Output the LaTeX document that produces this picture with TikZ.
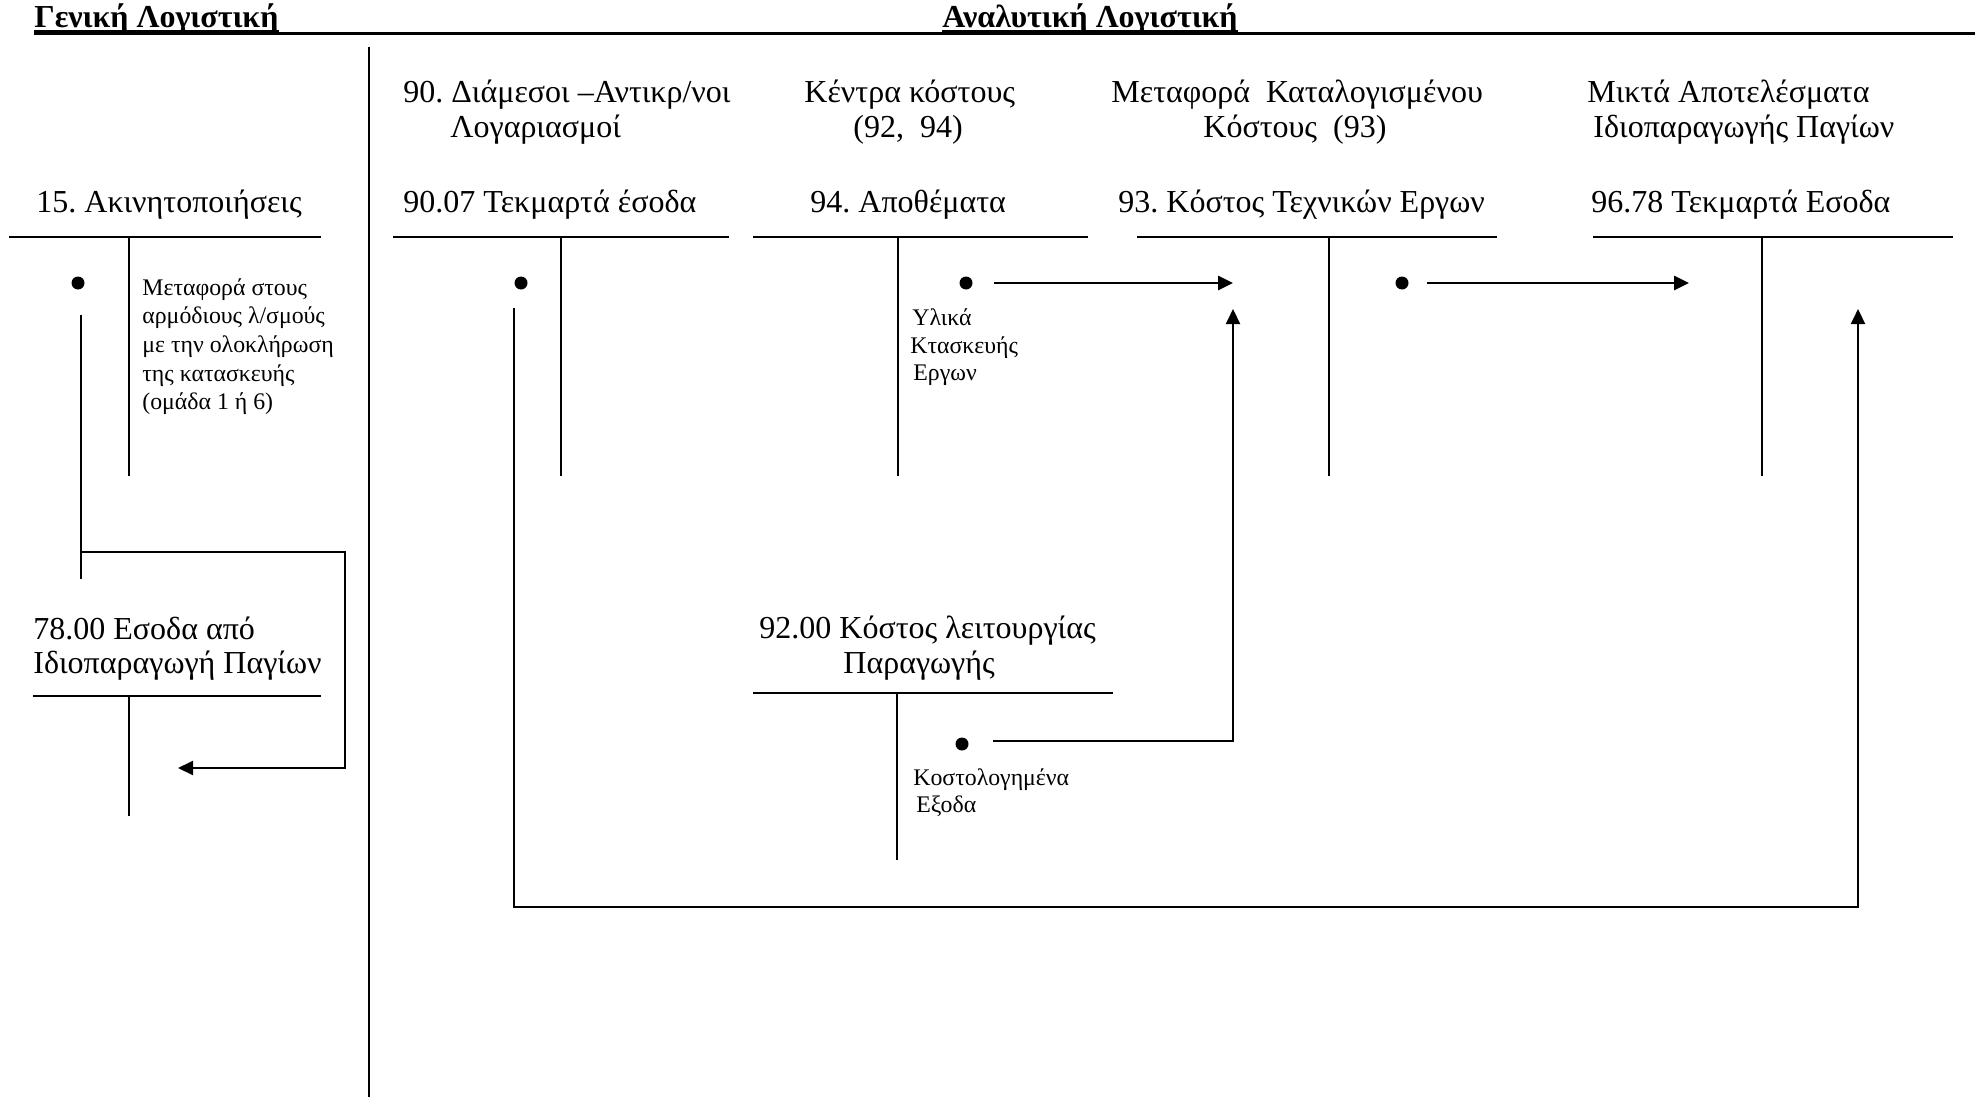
\documentclass[tikz,border=0pt]{standalone}
\usepackage{fontspec}
\setmainfont{Liberation Serif}
\usetikzlibrary{arrows.meta}
\frenchspacing
\begin{document}
\begin{tikzpicture}[x=0.5pt,y=-0.5pt,
  acct/.style={line width=1pt},
  conn/.style={line width=1pt},
  thick conn/.style={line width=1.3pt},
  arr/.style={-{Triangle[length=7.5pt,width=7pt]}},
  dotn/.style={circle,fill=black,inner sep=0pt,minimum size=6.5pt},
  lbl/.style={font=\fontsize{16}{19}\selectfont,inner sep=0pt,anchor=base west},
  note/.style={font=\fontsize{11.9}{14}\selectfont,inner sep=0pt,anchor=base west},
  head/.style={font=\bfseries\fontsize{16}{19}\selectfont,inner sep=0pt,anchor=base west}]
\useasboundingbox (0,0) rectangle (1975,1097);

% header
\node[head] (h1) at (34,28) {Γενική Λογιστική};
\node[head] (h2) at (942,28) {Αναλυτική Λογιστική};
\draw[line width=1pt] ([yshift=-1.5pt]h1.base west) -- ([yshift=-1.5pt]h1.base east);
\draw[line width=1pt] ([yshift=-1.5pt]h2.base west) -- ([yshift=-1.5pt]h2.base east);
\draw[line width=1.1pt] (34,33.5) -- (1975,33.5);
% divider
\draw[line width=1pt] (369,47) -- (369,1097);

% titles
\node[lbl] (t2a) at (403,103) {90. Διάμεσοι –Αντικρ/νοι};
\node[lbl] (t2b) at (450,138) {Λογαριασμοί};
\node[lbl] (t3a) at (804,103) {Κέντρα κόστους};
\node[lbl] (t3b) at (853,138) {(92,\ \ 94)};
\node[lbl] (t4a) at (1111,103) {Μεταφορά\ \ Καταλογισμένου};
\node[lbl] (t4b) at (1203,138) {Κόστους\ \ (93)};
\node[lbl] (t5a) at (1587,103) {Μικτά Αποτελέσματα};
\node[lbl] (t5b) at (1593,138) {Ιδιοπαραγωγής Παγίων};

% account names
\node[lbl] (a1) at (36,212) {15. Ακινητοποιήσεις};
\node[lbl] (a2) at (403,213) {90.07 Τεκμαρτά έσοδα};
\node[lbl] (a3) at (810,213) {94. Αποθέματα};
\node[lbl] (a4) at (1118,213) {93. Κόστος Τεχνικών Εργων};
\node[lbl] (a5) at (1591,213) {96.78 Τεκμαρτά Εσοδα};
\node[lbl] (a6a) at (33,639) {78.00 Εσοδα από};
\node[lbl] (a6b) at (33,673) {Ιδιοπαραγωγή Παγίων};
\node[lbl] (a7a) at (759,638) {92.00 Κόστος λειτουργίας};
\node[lbl] (a7b) at (843,673) {Παραγωγής};

% T accounts
\draw[acct] (9,237) -- (321,237) (129,237) -- (129,476);
\draw[acct] (393,237) -- (729,237) (561,237) -- (561,476);
\draw[acct] (753,237) -- (1088,237) (898,237) -- (898,476);
\draw[acct] (1137,237) -- (1497,237) (1329,237) -- (1329,476);
\draw[acct] (1593,237) -- (1953,237) (1762,237) -- (1762,476);
\draw[acct] (33,696) -- (321,696) (129,696) -- (129,816);
\draw[acct] (753,693) -- (1113,693) (897,693) -- (897,860);

% notes
\node[note] (n1a) at (142,295) {Μεταφορά στους};
\node[note] (n1b) at (142,323.7) {αρμόδιους λ/σμούς};
\node[note] (n1c) at (142,352.4) {με την ολοκλήρωση};
\node[note] (n1d) at (142,381) {της κατασκευής};
\node[note] (n1e) at (142,409.7) {(ομάδα 1 ή 6)};
\node[note] (n3a) at (912,325) {Υλικά};
\node[note] (n3b) at (910,353) {Κτασκευής};
\node[note] (n3c) at (913,380) {Εργων};
\node[note] (n7a) at (913,785) {Κοστολογημένα};
\node[note] (n7b) at (916,812) {Εξοδα};

% bullets
\node[dotn] (b1) at (78,283) {};
\node[dotn] (b2) at (521,283) {};
\node[dotn] (b3) at (966,283) {};
\node[dotn] (b4) at (1402,283) {};
\node[dotn] (b7) at (962,744) {};

% connector coordinates
\coordinate (c1s) at (81,315);
\coordinate (c1e) at (81,579);
\coordinate (c1j) at (81,552);
\coordinate (c1r) at (345,552);
\coordinate (c1d) at (345,768);
\coordinate (c1t) at (178,768);
\coordinate (c2s) at (514,308);
\coordinate (c2d) at (514,907);
\coordinate (c2r) at (1858,907);
\coordinate (c2t) at (1858,309);
\coordinate (c3s) at (994,283);
\coordinate (c3t) at (1233,283);
\coordinate (c4s) at (1427,283);
\coordinate (c4t) at (1689,283);
\coordinate (c7s) at (993,741);
\coordinate (c7r) at (1233,741);
\coordinate (c7t) at (1233,309);

\draw[conn] (c1s) -- (c1e);
\draw[conn,arr] (c1j) -- (c1r) -- (c1d) -- (c1t);
\draw[conn,arr] (c2s) -- (c2d) -- (c2r) -- (c2t);
\draw[thick conn,arr] (c3s) -- (c3t);
\draw[thick conn,arr] (c4s) -- (c4t);
\draw[conn,arr] (c7s) -- (c7r) -- (c7t);
\end{tikzpicture}
\end{document}
